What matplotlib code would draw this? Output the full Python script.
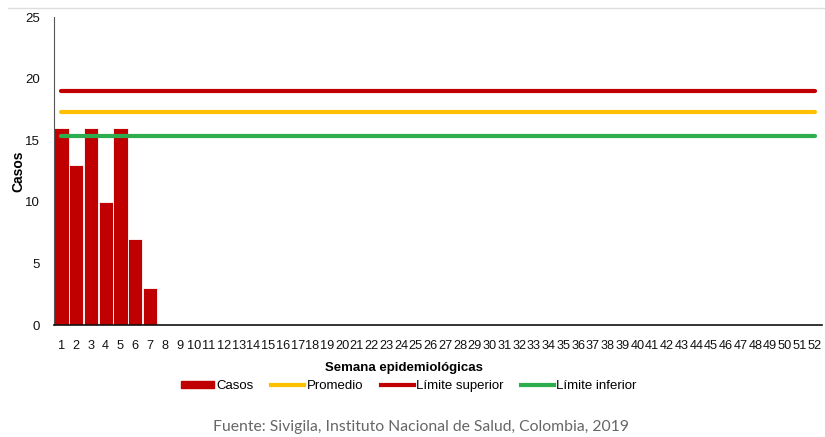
import matplotlib
matplotlib.use("Agg")
import matplotlib.pyplot as plt
import numpy as np
from matplotlib.lines import Line2D
from matplotlib.patches import Patch

# weekly cases, epidemiological weeks 1..52 (only first 7 reported)
semanas = list(range(1, 53))
casos = [16, 13, 16, 10, 16, 7, 3]
promedio = 17.25
limite_superior = 19.0
limite_inferior = 15.35

RED = "#C00000"
YELLOW = "#FFC000"
GREEN = "#2EAD4F"

plt.rcParams["font.family"] = ["Liberation Sans", "DejaVu Sans"]

fig = plt.figure(figsize=(8.25, 4.37), dpi=100)
ax = fig.add_axes([54 / 825, 1 - 325 / 437, 768 / 825, 308 / 437])

x = np.arange(1, len(casos) + 1)
ax.bar(x, casos, width=0.97, color=RED, edgecolor="white", linewidth=0.6, zorder=2)

xs = np.array([semanas[0], semanas[-1]])
ax.plot(xs, [promedio] * 2, color=YELLOW, lw=3, solid_capstyle="round", zorder=3)
ax.plot(xs, [limite_superior] * 2, color=RED, lw=3, solid_capstyle="round", zorder=3)
ax.plot(xs, [limite_inferior] * 2, color=GREEN, lw=3, solid_capstyle="round", zorder=3)

ax.set_xlim(0.5, 52.5)
ax.set_ylim(0, 25)
ax.set_xticks(semanas)
ax.set_yticks([0, 5, 10, 15, 20, 25])
ax.tick_params(axis="both", length=0, labelsize=9.5, colors="#111111")
ax.tick_params(axis="x", pad=11, labelsize=9.2)
ax.tick_params(axis="y", pad=10)

for side in ["top", "right"]:
    ax.spines[side].set_visible(False)
ax.spines["left"].set_color("#555555")
ax.spines["left"].set_linewidth(0.8)
ax.spines["bottom"].set_color("#111111")
ax.spines["bottom"].set_linewidth(1.2)

ax.set_ylabel("Casos", fontsize=10, fontweight="bold")
ax.yaxis.set_label_coords(-(54 - 25) / 768, 0.5)
fig.text(404 / 825, 1 - 368 / 437, "Semana epidemiológicas", ha="center", va="center",
         fontsize=9.5, fontweight="bold")

handles = [
    Patch(facecolor=RED, edgecolor=RED),
    Line2D([], [], color=YELLOW, lw=3),
    Line2D([], [], color=RED, lw=3),
    Line2D([], [], color=GREEN, lw=3),
]
labels = ["Casos", "Promedio", "Límite superior", "Límite inferior"]
fig.legend(handles, labels, loc="center", bbox_to_anchor=(409 / 825, 1 - 386 / 437),
           ncol=4, frameon=False, fontsize=9.5, handlelength=2.5, handleheight=0.4,
           handletextpad=0.2, columnspacing=1.3)

# thin rule at top, from the page layout
fig.add_artist(Line2D([8 / 825, 1], [1 - 8 / 437] * 2, color="#DDDDDD", lw=1))

fig.text(421 / 825, 1 - 427 / 437, "Fuente: Sivigila, Instituto Nacional de Salud, Colombia, 2019",
         ha="center", va="center", fontsize=11.3, color="#666666", family=["Lato", "DejaVu Sans"])

fig.savefig("out.png", dpi=100)
